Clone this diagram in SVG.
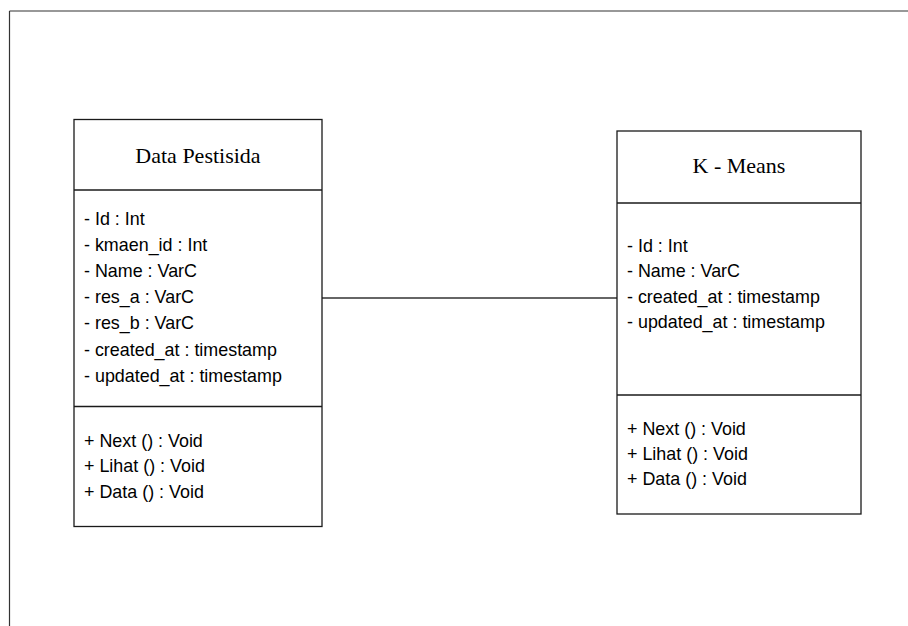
<svg xmlns="http://www.w3.org/2000/svg" width="908" height="626" viewBox="0 0 908 626">
<style>
.box{fill:#fff;stroke:#1a1a1a;stroke-width:1.3}
.div{stroke:#1a1a1a;stroke-width:1.3}
.title{font-family:"Liberation Serif","Times New Roman",serif;font-size:22px;fill:#000;text-anchor:middle}
.t{font-family:"Liberation Sans",Arial,sans-serif;font-size:17.9px;fill:#000}
.frame{stroke:#333;stroke-width:1.2;fill:none}
</style>
<rect width="908" height="626" fill="#fff"/>
<g id="frame">
<line class="frame" x1="9.5" y1="11" x2="908" y2="11"/>
<line class="frame" x1="9.5" y1="11" x2="9.5" y2="626"/>
</g>
<g id="connectors">
<line x1="322" y1="298" x2="617" y2="298" stroke="#333" stroke-width="1.3"/>
</g>
<g id="data-pestisida">
<rect class="box" x="74" y="119.5" width="248" height="407"/>
<line class="div" x1="74" y1="190" x2="322" y2="190"/>
<line class="div" x1="74" y1="406.5" x2="322" y2="406.5"/>
<text class="title" x="198" y="163">Data Pestisida</text>
<text class="t" x="84" y="225">- Id : Int</text>
<text class="t" x="84" y="251.1">- kmaen_id : Int</text>
<text class="t" x="84" y="277.2">- Name : VarC</text>
<text class="t" x="84" y="303.3">- res_a : VarC</text>
<text class="t" x="84" y="329.4">- res_b : VarC</text>
<text class="t" x="84" y="355.5">- created_at : timestamp</text>
<text class="t" x="84" y="381.6">- updated_at : timestamp</text>
<text class="t" x="84" y="446.5">+ Next () : Void</text>
<text class="t" x="84" y="472">+ Lihat () : Void</text>
<text class="t" x="84" y="497.5">+ Data () : Void</text>
</g>
<g id="k-means">
<rect class="box" x="617" y="131" width="244" height="383"/>
<line class="div" x1="617" y1="203" x2="861" y2="203"/>
<line class="div" x1="617" y1="395" x2="861" y2="395"/>
<text class="title" x="739" y="173">K - Means</text>
<text class="t" x="627" y="251.5">- Id : Int</text>
<text class="t" x="627" y="277">- Name : VarC</text>
<text class="t" x="627" y="302.5">- created_at : timestamp</text>
<text class="t" x="627" y="328">- updated_at : timestamp</text>
<text class="t" x="627" y="435">+ Next () : Void</text>
<text class="t" x="627" y="460">+ Lihat () : Void</text>
<text class="t" x="627" y="485">+ Data () : Void</text>
</g>
</svg>
